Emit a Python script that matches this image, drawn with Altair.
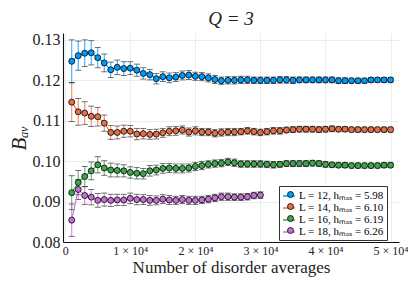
import altair as alt
import pandas as pd

labels = ["L = 12, hₘₐₓ = 5.98", "L = 14, hₘₐₓ = 6.10",
          "L = 16, hₘₐₓ = 6.19", "L = 18, hₘₐₓ = 6.26"]
colors = ["#009AFA", "#E36F47", "#3EA44E", "#C371D2"]

b12 = [0.1247, 0.1261, 0.1267, 0.1268, 0.1256, 0.1243, 0.1226, 0.1232, 0.1229, 0.1230,
       0.1225, 0.1217, 0.1214, 0.1204, 0.1209, 0.1206, 0.1208, 0.1212, 0.1213, 0.1210,
       0.1209, 0.1206, 0.1202, 0.1199, 0.1200, 0.1200, 0.1201, 0.1201, 0.1200, 0.1200,
       0.1200, 0.1200, 0.1201, 0.1201, 0.1200, 0.1201, 0.1201, 0.1201, 0.1201, 0.1201,
       0.1201, 0.1199, 0.1199, 0.1199, 0.1199, 0.1199, 0.1201, 0.1201, 0.1201, 0.1201]
e12 = [0.0053, 0.0036, 0.0033, 0.0030, 0.0025, 0.0022, 0.0019, 0.0018, 0.0017, 0.0016,
       0.0015, 0.0014, 0.0013, 0.0013, 0.0012, 0.0012, 0.0011, 0.0011, 0.0011, 0.0010,
       0.0010, 0.0010, 0.0010, 0.0009, 0.0009, 0.0009, 0.0009, 0.0009, 0.0008, 0.0008,
       0.0008, 0.0008, 0.0008, 0.0008, 0.0008, 0.0007, 0.0007, 0.0007, 0.0007, 0.0007,
       0.0007, 0.0007, 0.0007, 0.0006, 0.0006, 0.0006, 0.0006, 0.0006, 0.0006, 0.0006]

b14 = [0.1146, 0.1122, 0.1119, 0.1111, 0.1110, 0.1094, 0.1071, 0.1071, 0.1074, 0.1074,
       0.1067, 0.1068, 0.1066, 0.1067, 0.1070, 0.1074, 0.1075, 0.1077, 0.1072, 0.1075,
       0.1072, 0.1072, 0.1069, 0.1071, 0.1072, 0.1072, 0.1073, 0.1075, 0.1073, 0.1071,
       0.1073, 0.1075, 0.1075, 0.1077, 0.1078, 0.1079, 0.1079, 0.1079, 0.1078, 0.1079,
       0.1080, 0.1079, 0.1079, 0.1078, 0.1078, 0.1078, 0.1078, 0.1078, 0.1078, 0.1078]
e14 = [0.0048, 0.0033, 0.0028, 0.0025, 0.0023, 0.0020, 0.0017, 0.0016, 0.0015, 0.0014,
       0.0014, 0.0013, 0.0012, 0.0012, 0.0011, 0.0011, 0.0011, 0.0010, 0.0010, 0.0010,
       0.0009, 0.0009, 0.0009, 0.0009, 0.0009, 0.0009, 0.0008, 0.0008, 0.0008, 0.0008,
       0.0008, 0.0008, 0.0008, 0.0007, 0.0007, 0.0007, 0.0007, 0.0007, 0.0007, 0.0007,
       0.0007, 0.0006, 0.0006, 0.0006, 0.0006, 0.0006, 0.0006, 0.0006, 0.0006, 0.0006]

b16 = [0.0922, 0.0947, 0.0962, 0.0976, 0.0991, 0.0983, 0.0978, 0.0977, 0.0976, 0.0972,
       0.0970, 0.0969, 0.0976, 0.0978, 0.0982, 0.0983, 0.0982, 0.0982, 0.0983, 0.0987,
       0.0989, 0.0992, 0.0994, 0.0995, 0.0998, 0.0996, 0.0993, 0.0993, 0.0993, 0.0993,
       0.0992, 0.0991, 0.0992, 0.0994, 0.0994, 0.0994, 0.0994, 0.0995, 0.0994, 0.0992,
       0.0991, 0.0990, 0.0990, 0.0989, 0.0989, 0.0989, 0.0989, 0.0989, 0.0990, 0.0990]
e16 = [0.0042, 0.0030, 0.0025, 0.0022, 0.0020, 0.0018, 0.0017, 0.0016, 0.0015, 0.0014,
       0.0014, 0.0013, 0.0013, 0.0012, 0.0012, 0.0011, 0.0011, 0.0011, 0.0010, 0.0010,
       0.0010, 0.0009, 0.0009, 0.0009, 0.0009, 0.0009, 0.0008, 0.0008, 0.0008, 0.0008,
       0.0008, 0.0008, 0.0007, 0.0007, 0.0007, 0.0007, 0.0007, 0.0007, 0.0007, 0.0007,
       0.0006, 0.0006, 0.0006, 0.0006, 0.0006, 0.0006, 0.0006, 0.0006, 0.0006, 0.0006]

b18 = [0.0854, 0.0930, 0.0915, 0.0911, 0.0903, 0.0905, 0.0903, 0.0904, 0.0904, 0.0908,
       0.0905, 0.0905, 0.0903, 0.0903, 0.0906, 0.0904, 0.0903, 0.0905, 0.0903, 0.0903,
       0.0904, 0.0906, 0.0909, 0.0912, 0.0912, 0.0911, 0.0911, 0.0912, 0.0915, 0.0916]
e18 = [0.0040, 0.0025, 0.0022, 0.0019, 0.0017, 0.0016, 0.0015, 0.0014, 0.0014, 0.0013,
       0.0013, 0.0012, 0.0012, 0.0011, 0.0011, 0.0011, 0.0010, 0.0010, 0.0010, 0.0010,
       0.0009, 0.0009, 0.0009, 0.0009, 0.0009, 0.0008, 0.0008, 0.0008, 0.0008, 0.0008]

x_ticks = [0, 10000, 20000, 30000, 40000, 50000]
y_ticks = [0.08, 0.09, 0.10, 0.11, 0.12, 0.13]

rows = []
for lab, bs, es in zip(labels, [b12, b14, b16, b18], [e12, e14, e16, e18]):
    for i, (b, e) in enumerate(zip(bs, es)):
        rows.append({"n": (i + 1) * 1000, "B": b, "err": e, "series": lab, "series2": lab})
df = pd.DataFrame(rows)

FONT = "Liberation Serif"

xenc = alt.X("n:Q", scale=alt.Scale(domain=[-340, 51300], nice=False, zero=False),
             axis=alt.Axis(values=x_ticks, title="Number of disorder averages",
                           labelExpr="datum.value == 0 ? '0' : format(datum.value/10000, 'd') + ' × 10⁴'",
                           labelFontSize=12, titleFontSize=17, labelPadding=3,
                           titlePadding=3, ticks=False, grid=True))
yscale = alt.Scale(domain=[0.08, 0.1317], nice=False, zero=False)
yaxis = alt.Axis(values=y_ticks, format=".2f", title="Bₐᵥ", labelFontSize=16,
                 titleFontSize=21, titleFontStyle="italic", titlePadding=3,
                 labelPadding=3, ticks=False, grid=True)

stroke_scale = alt.Scale(range=colors)
fill_scale = alt.Scale(range=colors)
base = alt.Chart(df).transform_calculate(lo="datum.B - datum.err", hi="datum.B + datum.err")

line_legend = alt.Legend(title=None, orient="none", legendX=216, legendY=153,
                         symbolType="stroke", symbolSize=144, symbolStrokeWidth=1.8,
                         labelFont=FONT, labelFontSize=11, labelOffset=3,
                         fillColor="white", strokeColor="#333333",
                         padding=3, rowPadding=0, labelLimit=200)
point_legend = alt.Legend(title=None, orient="none", legendX=219, legendY=153,
                          symbolType="circle", symbolSize=36, symbolStrokeColor="black",
                          symbolStrokeWidth=0.8, labelFont=FONT, labelFontSize=11,
                          labelColor="transparent", labelOffset=3,
                          padding=3, rowPadding=0, labelLimit=200)

bars = base.mark_rule(strokeWidth=1.1, opacity=0.8).encode(
    x=xenc, y=alt.Y("lo:Q", scale=yscale, axis=yaxis), y2="hi:Q",
    stroke=alt.Stroke("series:N", scale=stroke_scale, legend=line_legend))
cap_lo = base.mark_tick(orient="horizontal", size=6, thickness=0.9, color="#222222").encode(
    x="n:Q", y=alt.Y("lo:Q"))
cap_hi = base.mark_tick(orient="horizontal", size=6, thickness=0.9, color="#222222").encode(
    x="n:Q", y=alt.Y("hi:Q"))
lines = base.mark_line(strokeWidth=1.1).encode(
    x="n:Q", y="B:Q",
    stroke=alt.Stroke("series:N", scale=stroke_scale, legend=line_legend))
points = base.mark_point(shape="circle", filled=True, size=36, stroke="black",
                         strokeWidth=0.8, opacity=1).encode(
    x="n:Q", y="B:Q",
    fill=alt.Fill("series2:N", scale=fill_scale, legend=point_legend))

chart = alt.layer(bars, cap_lo, cap_hi, lines, points).properties(
    width=336, height=209,
    title=alt.Title("Q = 3", fontSize=19, font=FONT, fontStyle="italic", fontWeight="normal",
                    offset=3, anchor="middle", color="#222222"),
    padding={"left": 55, "top": 25, "right": 9, "bottom": 36},
    autosize=alt.AutoSizeParams(type="none"),
    background="white",
).configure_axis(
    labelFont=FONT, titleFont=FONT, labelColor="#222222", titleColor="#222222",
    domainColor="#111111", domainWidth=1.1, gridColor="#e8e8e8", gridWidth=0.8,
    titleFontWeight="normal",
).configure_view(stroke=None)

chart.save("out.html", embed_options={"renderer": "svg", "actions": False})
